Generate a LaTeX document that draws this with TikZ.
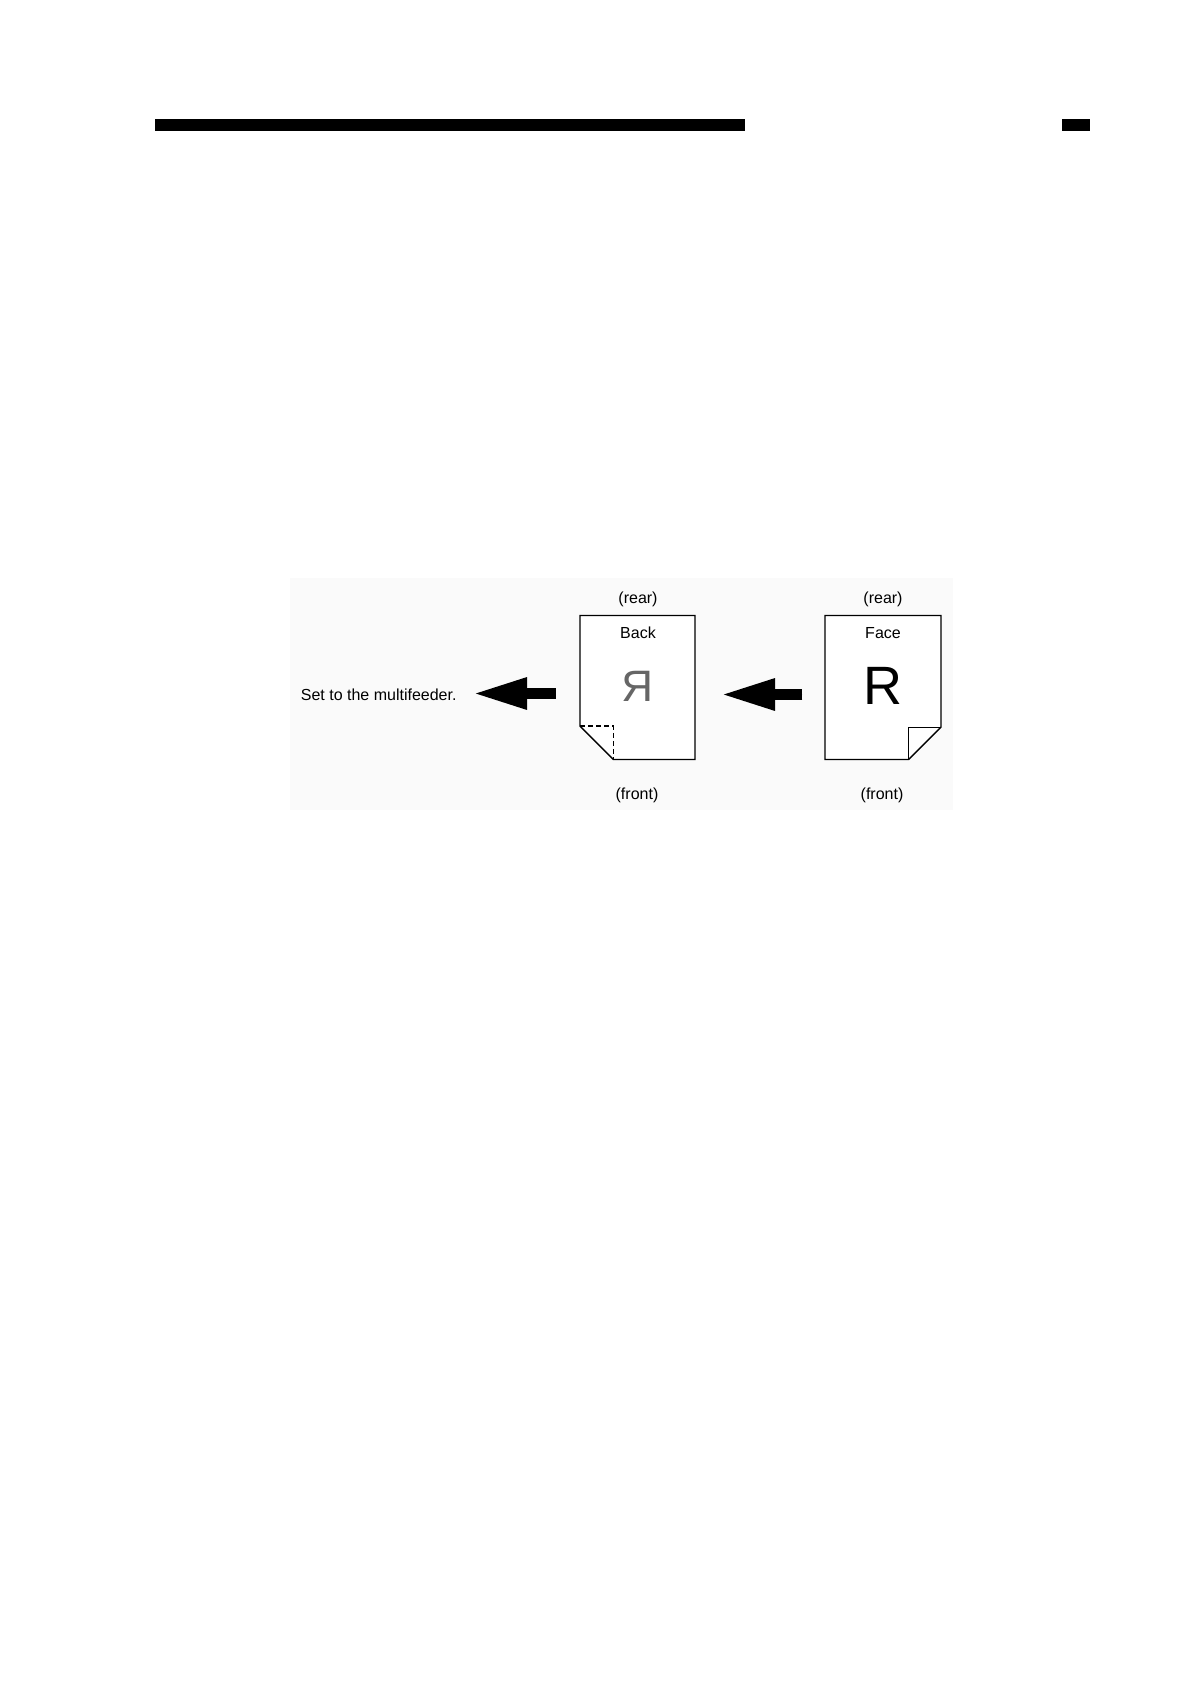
\documentclass[tikz,border=0pt]{standalone}
\usepackage{fontspec}
\setmainfont{Liberation Sans}
\usetikzlibrary{arrows.meta}
\tikzset{
  lbl/.style={font=\fontsize{16}{18}\selectfont, inner sep=0pt, anchor=center},
  paper/.style={draw=black, line width=1.3pt, fill=white, line join=miter},
  fold/.style={draw=black, line width=1.3pt},
  blockarrow/.style={line width=11.5pt, -{Triangle[length=55pt,width=29pt]}, fill=black},
  topbar/.style={fill=black, draw=none}
}
\begin{document}
\begin{tikzpicture}[x=1pt,y=-1pt]
\useasboundingbox (0,0) rectangle (1188,1684);
\fill[white] (0,0) rectangle (1188,1684);
% header bars
\fill[topbar] (154.7,119.2) rectangle (745.4,131.0);
\fill[topbar] (1062.3,119.2) rectangle (1090.2,131.0);
% faint figure background
\fill[black!2] (290,578) rectangle (953,810);

% Back sheet (left)
\path[paper] (580,615.5) -- (694.9,615.5) -- (694.9,759.4) -- (613.3,759.4) -- (580,726.1) -- cycle;
\draw[fold, dashed, dash pattern=on 5pt off 3pt] (580,726.1) -- (613.3,726.1) -- (613.3,759.4);
% Face sheet (right)
\path[paper] (824.9,615.5) -- (940.9,615.5) -- (940.9,727.2) -- (908.7,759.4) -- (824.9,759.4) -- cycle;
\draw[fold] (908.7,759.4) -- (908.7,727.2) -- (940.9,727.2);

% labels
\node[lbl] (rearL) at (638,599.5) {(rear)};
\node[lbl] (rearR) at (883,599.5) {(rear)};
\node[lbl] (back) at (638,632.5) {Back};
\node[lbl] (face) at (883,633.5) {Face};
\node[lbl] (frontL) at (637,795) {(front)};
\node[lbl] (frontR) at (882,795) {(front)};
\node[inner sep=0pt, font=\fontsize{54}{60}\selectfont] (bigR) at (883,686.3) {R};
\node[inner sep=0pt, font=\fontsize{44}{50}\selectfont, text=black!60] (mirR) at (638,686) {\scalebox{-1}[1]{R}};
\node[lbl, anchor=west] (setto) at (300.7,695) {Set to the multifeeder.};

% arrows
\coordinate (a1s) at (555.7,693.5);
\coordinate (a1t) at (472,693.5);
\coordinate (a2s) at (802.4,694.5);
\coordinate (a2t) at (720,694.5);
\draw[blockarrow] (a1s) -- (a1t);
\draw[blockarrow] (a2s) -- (a2t);
\end{tikzpicture}
\end{document}
